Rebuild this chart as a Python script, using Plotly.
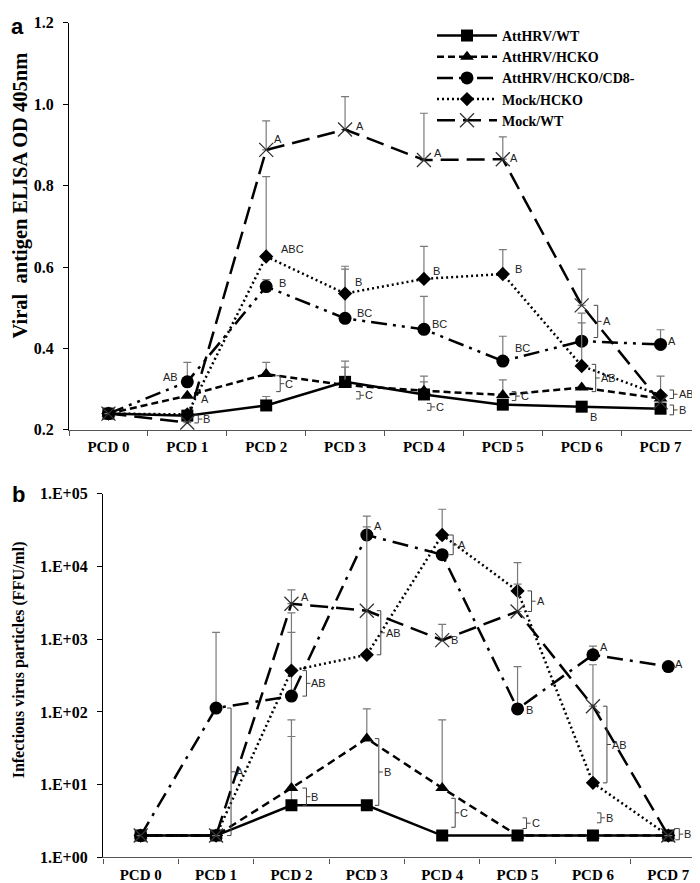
import plotly.graph_objects as go
import math

# ---------------- data ----------------
categories = ["PCD 0", "PCD 1", "PCD 2", "PCD 3", "PCD 4", "PCD 5", "PCD 6", "PCD 7"]
series_names = ["AttHRV/WT", "AttHRV/HCKO", "AttHRV/HCKO/CD8-", "Mock/HCKO", "Mock/WT"]

# Panel a: viral antigen ELISA OD 405nm (mean, and top of upper error bar)
a_att_wt = [0.24, 0.235, 0.26, 0.318, 0.287, 0.262, 0.257, 0.252]
a_att_wt_top = [None, None, 0.282, 0.354, 0.318, None, None, None]
a_att_hcko = [0.24, 0.284, 0.337, 0.31, 0.296, 0.286, 0.304, 0.277]
a_att_hcko_top = [None, None, 0.366, 0.369, 0.332, 0.323, None, 0.332]
a_att_cd8 = [0.24, 0.318, 0.552, 0.474, 0.447, 0.369, 0.418, 0.41]
a_att_cd8_top = [None, 0.366, 0.569, 0.595, 0.528, 0.43, 0.487, 0.446]
a_mock_hcko = [0.24, 0.238, 0.626, 0.535, 0.571, 0.583, 0.357, 0.285]
a_mock_hcko_top = [None, None, 0.822, 0.602, 0.651, 0.643, 0.463, None]
a_mock_wt = [0.24, 0.218, 0.888, 0.938, 0.863, 0.865, 0.506, 0.268]
a_mock_wt_top = [None, None, 0.959, 1.019, 0.978, 0.92, 0.595, None]

# Panel b: infectious virus particles (FFU/ml)
b_att_wt = [2, 2, 5.2, 5.2, 2, 2, 2, 2]
b_att_wt_top = [None, None, 46, None, None, None, None, None]
b_att_hcko = [2, 2, 9, 43, 9, 2, 2, 2]
b_att_hcko_top = [None, None, 78, 110, 78, None, None, None]
b_att_cd8 = [2, 113, 165, 27000, 14500, 110, 610, 420]
b_att_cd8_top = [None, 1240, 1240, 49000, None, 420, 800, None]
b_mock_hcko = [2, 2, 370, 610, 27000, 4600, 10.6, 2]
b_mock_hcko_top = [None, None, 2300, 35000, 61000, 11300, 445, None]
b_mock_wt = [2, 2, 3070, 2460, 970, 2400, 120, 2]
b_mock_wt_top = [None, None, 4750, None, 1600, 5700, None, None]

a_ticks = [0.2, 0.4, 0.6, 0.8, 1.0, 1.2]
b_tickvals = [1, 10, 100, 1000, 10000, 100000]
b_ticktext = ["1.E+00", "1.E+01", "1.E+02", "1.E+03", "1.E+04", "1.E+05"]

# significance letters next to markers: (series index, category index, text)
a_letters = [(2, 1, "AB"), (1, 1, "A"), (4, 2, "A"), (3, 2, "ABC"), (2, 2, "B"),
             (4, 3, "A"), (3, 3, "B"), (2, 3, "BC"), (4, 4, "A"), (3, 4, "B"),
             (2, 4, "BC"), (4, 5, "A"), (3, 5, "B"), (2, 5, "BC"), (0, 6, "B"), (2, 7, "A")]
a_letter_offsets = [(-17, -5), (18, 3), (12, -11), (26, -7), (16, -4),
                    (15, -4), (13, -12), (19, -5), (14, -7), (13, -8),
                    (16, -5), (11, -1), (16, -5), (20, -13), (12, 10), (11, -3)]
b_letters = [(4, 2, "A"), (2, 3, "A"), (4, 4, "B"), (2, 5, "B"), (2, 6, "A"), (2, 7, "A")]
b_letter_offsets = [(14, -7), (11, -9), (12, 0), (12, 1), (11, -8), (11, -3)]

# bracketed letters: (category index, top value, bottom value, text)
a_braces = [(1, 0.236, 0.217, "B"), (2, 0.333, 0.294, "C"), (3, 0.294, 0.276, "C"),
            (4, 0.265, 0.248, "C"), (5, 0.294, 0.272, "C"), (6, 0.506, 0.427, "A"),
            (6, 0.361, 0.294, "AB"), (7, 0.298, 0.277, "AB"), (7, 0.261, 0.237, "B")]
a_brace_dx = [11, 14, 15, 7, 13, 16, 14, 13, 13]
b_braces = [(1, 113, 2, "A"), (2, 370, 165, "AB"), (2, 9, 5.2, "B"), (3, 2460, 610, "AB"),
            (3, 43, 5.2, "B"), (4, 27000, 14500, "A"), (4, 6.5, 2.6, "C"),
            (5, 4600, 2400, "A"), (5, 3.5, 2.5, "C"), (6, 120, 10.6, "AB"),
            (6, 4.1, 3.0, "B"), (7, 2.5, 1.75, "B")]
b_brace_dx = [15, 15, 15, 14, 12, 11, 13, 14, 9, 14, 8, 11]

# ---------------- styling ----------------
W, H = 700, 883
SERIF = "Liberation Serif, Times New Roman, serif"
SANS = "Liberation Sans, Arial, sans-serif"
markers = [
    dict(symbol="square", size=12, color="black"),
    dict(symbol="triangle-up", size=12, color="black"),
    dict(symbol="circle", size=13, color="black"),
    dict(symbol="diamond", size=11, color="black"),
    dict(symbol="x-thin", size=14, color="black", line=dict(width=1.3, color="#333")),
]
dashes_a = ["solid", "7px,4px", "16px,6px,3px,6px,3px,6px", "2px,3px", "18px,8px"]
dashes_b = ["solid", "8px,5px", "16px,7px,3px,7px", "2px,3px", "18px,8px"]

a_vals = [a_att_wt, a_att_hcko, a_att_cd8, a_mock_hcko, a_mock_wt]
a_tops = [a_att_wt_top, a_att_hcko_top, a_att_cd8_top, a_mock_hcko_top, a_mock_wt_top]
b_vals = [b_att_wt, b_att_hcko, b_att_cd8, b_mock_hcko, b_mock_wt]
b_tops = [b_att_wt_top, b_att_hcko_top, b_att_cd8_top, b_mock_hcko_top, b_mock_wt_top]


def upper(vals, tops):
    return [None if t is None else t - v for v, t in zip(vals, tops)]


fig = go.Figure()
for i, name in enumerate(series_names):
    fig.add_trace(go.Scatter(
        x=categories, y=a_vals[i], name=name, mode="lines+markers",
        line=dict(color="black", width=2.5, dash=dashes_a[i]), marker=markers[i],
        error_y=dict(type="data", symmetric=False, array=upper(a_vals[i], a_tops[i]),
                     arrayminus=[0] * 8, color="#7a7a7a", thickness=1.2, width=4),
        xaxis="x", yaxis="y", showlegend=True))
for i, name in enumerate(series_names):
    fig.add_trace(go.Scatter(
        x=categories, y=b_vals[i], name=name, mode="lines+markers",
        line=dict(color="black", width=2.5, dash=dashes_b[i]), marker=markers[i],
        error_y=dict(type="data", symmetric=False, array=upper(b_vals[i], b_tops[i]),
                     arrayminus=[0] * 8, color="#7a7a7a", thickness=1.2, width=4),
        xaxis="x2", yaxis="y2", showlegend=False))

annotations = []
shapes = []
letter_font = dict(family=SANS, size=11, color="#222")


def add_letters(letters, offsets, vals, xref, yref, log):
    for (si, ci, txt), (dx, dy) in zip(letters, offsets):
        v = vals[si][ci]
        annotations.append(dict(x=ci, y=math.log10(v) if log else v, xref=xref, yref=yref,
                                text=txt, showarrow=False, xshift=dx, yshift=-dy,
                                font=letter_font, xanchor="center", yanchor="middle"))


def add_braces(braces, dxs, xref, yref, log):
    for (ci, top, bot, txt), dx in zip(braces, dxs):
        mid = math.sqrt(top * bot) if log else (top + bot) / 2
        ln = dict(color="#444", width=1)
        common = dict(type="line", xref=xref, yref=yref, xsizemode="pixel", xanchor=ci, line=ln)
        shapes.append(dict(x0=dx, x1=dx, y0=top, y1=bot, **common))
        shapes.append(dict(x0=dx - 4, x1=dx, y0=top, y1=top, **common))
        shapes.append(dict(x0=dx - 4, x1=dx, y0=bot, y1=bot, **common))
        shapes.append(dict(x0=dx, x1=dx + 4, y0=mid, y1=mid, **common))
        annotations.append(dict(x=ci, y=math.log10(mid) if log else mid, xref=xref, yref=yref,
                                text=txt, showarrow=False, xshift=dx + 4, font=letter_font,
                                xanchor="left", yanchor="middle", borderpad=0))


add_letters(a_letters, a_letter_offsets, a_vals, "x", "y", False)
add_letters(b_letters, b_letter_offsets, b_vals, "x2", "y2", True)
add_braces(a_braces, a_brace_dx, "x", "y", False)
add_braces(b_braces, b_brace_dx, "x2", "y2", True)

# panel letters and axis titles
annotations += [
    dict(x=9 / W, y=1 - 11 / H, xref="paper", yref="paper", text="<b>a</b>", showarrow=False,
         font=dict(family=SANS, size=22, color="black"), xanchor="center", yanchor="middle"),
    dict(x=10 / W, y=1 - 488 / H, xref="paper", yref="paper", text="<b>b</b>", showarrow=False,
         font=dict(family=SANS, size=22, color="black"), xanchor="center", yanchor="middle"),
    dict(x=12 / W, y=1 - 183 / H, xref="paper", yref="paper",
         text="<b>Viral  antigen ELISA OD 405nm</b>", textangle=-90, showarrow=False,
         font=dict(family=SERIF, size=20.5, color="black"), xanchor="center", yanchor="middle"),
    dict(x=11 / W, y=1 - 657 / H, xref="paper", yref="paper",
         text="<b>Infectious virus particles (FFU/ml)</b>", textangle=-90, showarrow=False,
         font=dict(family=SERIF, size=16, color="black"), xanchor="center", yanchor="middle"),
]

tickfont_x = dict(family=SERIF, size=15, color="black", weight="bold")
tickfont_y = dict(family=SERIF, size=16, color="black", weight="bold")

xcommon = dict(type="category", categoryorder="array", categoryarray=categories,
               range=[-0.5, 7.5], tickson="boundaries", ticks="outside", ticklen=5,
               tickcolor="#555", showline=True, linecolor="#555", linewidth=1.2,
               showgrid=False, zeroline=False, tickfont=tickfont_x, ticklabelstandoff=3)

fig.update_layout(
    width=W, height=H, margin=dict(l=0, r=0, t=0, b=0),
    paper_bgcolor="white", plot_bgcolor="white",
    xaxis=dict(domain=[61 / W, 692 / W], anchor="y", **xcommon),
    yaxis=dict(domain=[1 - 422 / H, 1 - 7 / H], anchor="x", range=[0.2, 1.2],
               tickvals=a_ticks, tickformat=".1f", ticks="outside", ticklen=5,
               tickcolor="black", showline=True, linecolor="black", linewidth=1.2,
               showgrid=False, zeroline=False, tickfont=tickfont_y, ticklabelstandoff=6),
    xaxis2=dict(domain=[95 / W, 698 / W], anchor="y2", **xcommon),
    yaxis2=dict(domain=[1 - 858 / H, 1 - 487 / H], anchor="x2", type="log", range=[0, 5],
                tickvals=b_tickvals, ticktext=b_ticktext, ticks="outside", ticklen=5,
                tickcolor="black", showline=True, linecolor="black", linewidth=1.2,
                showgrid=False, zeroline=False, tickfont=tickfont_y, ticklabelstandoff=6),
    legend=dict(x=424 / W, y=1 - 4 / H, xanchor="left", yanchor="top",
                font=dict(family=SERIF, size=14, color="black", weight="bold"),
                bgcolor="rgba(0,0,0,0)", tracegroupgap=0, itemwidth=60),
    annotations=annotations, shapes=shapes,
)

fig.write_html("out.html")
